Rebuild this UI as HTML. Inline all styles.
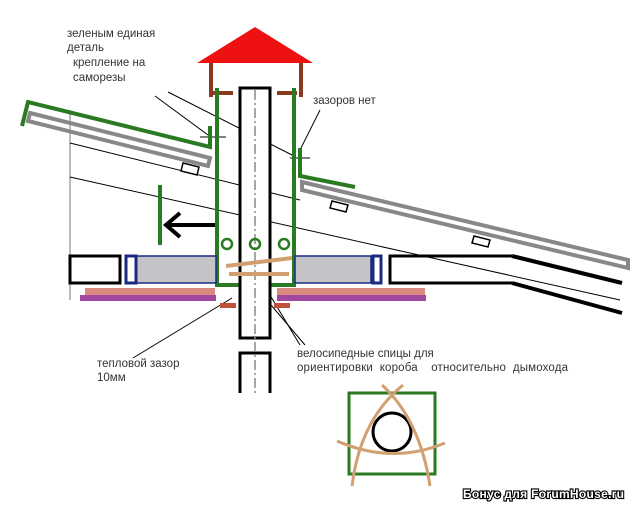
<!DOCTYPE html>
<html><head><meta charset="utf-8"><style>
html,body{margin:0;padding:0;background:#fff;}
svg{display:block}
text{font-family:"Liberation Sans",sans-serif;font-size:11.5px;fill:#333}
</style></head><body>
<svg width="640" height="515" viewBox="0 0 640 515" xmlns="http://www.w3.org/2000/svg">
<rect width="640" height="515" fill="#fff"/>
<g stroke="#000" stroke-width="1" fill="none">
<line x1="70" y1="110" x2="70" y2="300" stroke="#777"/>
<line x1="70" y1="143" x2="300" y2="200"/>
<line x1="70" y1="177" x2="620" y2="300"/>
<line x1="155" y1="96" x2="208" y2="135"/>
<line x1="168" y1="92" x2="296" y2="157"/>
<line x1="320" y1="110" x2="301" y2="148"/>
<line x1="200" y1="137" x2="226" y2="137"/>
<line x1="290" y1="158" x2="310" y2="158"/>
<line x1="133" y1="358" x2="232" y2="298"/>
<line x1="300" y1="345" x2="250" y2="262"/>
<line x1="305" y1="345" x2="243" y2="272"/>
</g>
<polygon points="30,113 210,158 208,166 28,121" fill="none" stroke="#888" stroke-width="4"/>
<polyline points="22,126 28,102 210,147 210,126" fill="none" stroke="#2a7a22" stroke-width="4"/>
<polygon points="183,163 199,167 197,175 181,171" fill="#fff" stroke="#000" stroke-width="1.5"/>
<polygon points="302,182 628,260 628,268 302,190" fill="none" stroke="#888" stroke-width="4"/>
<polyline points="300,148 300,176 355,187" fill="none" stroke="#2a7a22" stroke-width="4"/>
<polygon points="332,201 348,205 346,212 330,208" fill="#fff" stroke="#000" stroke-width="1.5"/>
<polygon points="474,236 490,240 488,247 472,243" fill="#fff" stroke="#000" stroke-width="1.5"/>
<polygon points="255,27 197,63 313,63" fill="#ee1111"/>
<polyline points="211,63 211,97" stroke="#8a3a1c" stroke-width="4" fill="none"/>
<polyline points="301,63 301,97" stroke="#8a3a1c" stroke-width="4" fill="none"/>
<line x1="213" y1="93" x2="233" y2="93" stroke="#8a3a1c" stroke-width="4"/>
<line x1="277" y1="93" x2="297" y2="93" stroke="#8a3a1c" stroke-width="4"/>
<polyline points="217,88 217,285 294,285 294,88" fill="none" stroke="#2a7a22" stroke-width="4"/>
<rect x="240" y="88" width="30" height="250" fill="#fff" stroke="#000" stroke-width="3"/>
<polyline points="240,393 240,353 270,353 270,393" fill="none" stroke="#000" stroke-width="3"/>
<line x1="255" y1="90" x2="255" y2="395" stroke="#888" stroke-width="1.5" stroke-dasharray="10,3,2,3"/>
<rect x="70" y="256" width="50" height="27" fill="#fff" stroke="#000" stroke-width="3"/>
<rect x="136" y="256" width="80" height="27" fill="#c4c4c8" stroke="#1a2a80" stroke-width="1.5"/>
<rect x="126" y="256" width="10" height="27" fill="#fff" stroke="#1a2a80" stroke-width="3"/>
<rect x="295" y="256" width="76" height="27" fill="#c4c4c8" stroke="#1a2a80" stroke-width="1.5"/>
<rect x="373" y="256" width="8" height="27" fill="#fff" stroke="#1a2a80" stroke-width="3"/>
<polyline points="512,256 390,256 390,283 512,283" fill="none" stroke="#000" stroke-width="3"/>
<line x1="512" y1="256" x2="622" y2="283" stroke="#000" stroke-width="4"/>
<line x1="512" y1="283" x2="622" y2="313" stroke="#000" stroke-width="4"/>
<rect x="85" y="288" width="130" height="7" fill="#dc8a80"/>
<rect x="80" y="295" width="136" height="6" fill="#a048a0"/>
<rect x="277" y="288" width="148" height="7" fill="#dc8a80"/>
<rect x="277" y="295" width="149" height="6" fill="#a048a0"/>
<rect x="220" y="303" width="16" height="5" fill="#c0503a"/>
<rect x="274" y="303" width="16" height="5" fill="#c0503a"/>
<line x1="160" y1="185" x2="160" y2="245" stroke="#2a7a22" stroke-width="4"/>
<line x1="215" y1="225" x2="168" y2="225" stroke="#000" stroke-width="4"/>
<polyline points="180,213 166,225 180,237" fill="none" stroke="#000" stroke-width="4"/>
<g fill="none" stroke="#2a7a22" stroke-width="2.5">
<circle cx="227" cy="244" r="5"/><circle cx="255" cy="244" r="5"/><circle cx="284" cy="244" r="5"/>
</g>
<line x1="226" y1="266" x2="292" y2="258" stroke="#d0a070" stroke-width="4"/>
<line x1="229" y1="274" x2="289" y2="274" stroke="#d0a070" stroke-width="4"/>
<rect x="349" y="393" width="86" height="81" fill="none" stroke="#2a7a22" stroke-width="3"/>
<circle cx="392" cy="432" r="19" fill="#fff" stroke="#000" stroke-width="3"/>
<g fill="none" stroke="#d0a070" stroke-width="3">
<path d="M352,486 Q360,420 403,385"/>
<path d="M430,486 Q420,420 382,385"/>
<path d="M337,441 Q392,465 445,443"/>
</g>
<text x="67" y="37">зеленым единая</text>
<text x="67" y="51">деталь</text>
<text x="73" y="66">крепление на</text>
<text x="73" y="81">саморезы</text>
<text x="313" y="104">зазоров нет</text>
<text x="97" y="367">тепловой зазор</text>
<text x="97" y="381">10мм</text>
<text x="297" y="357">велосипедные спицы для</text>
<text x="297" y="371" xml:space="preserve" textLength="271">ориентировки  короба    относительно  дымохода</text>
<text x="463" y="498" textLength="161" style="font-weight:bold;font-size:12px;fill:#fff;stroke:#000;stroke-width:2.2;paint-order:stroke">Бонус для ForumHouse.ru</text>
</svg>
</body></html>
